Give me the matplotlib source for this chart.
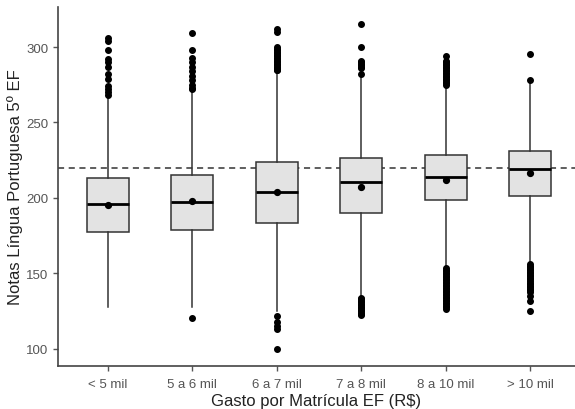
import matplotlib
matplotlib.use("Agg")
import matplotlib.pyplot as plt

categories = ["< 5 mil", "5 a 6 mil", "6 a 7 mil", "7 a 8 mil", "8 a 10 mil", "> 10 mil"]
q1 = [177.5, 178.8, 183.4, 190.0, 198.7, 201.3]
medians = [196.0, 197.6, 204.0, 210.6, 213.9, 219.2]
q3 = [213.2, 215.2, 223.8, 226.5, 228.5, 231.0]
whisker_low = [128.0, 128.0, 125.0, 135.0, 154.3, 156.5]
whisker_high = [267.5, 271.0, 283.5, 281.0, 274.0, 276.5]
means = [195.6, 197.8, 204.0, 207.3, 212.0, 216.6]
outliers = [
    [306, 304, 298, 292, 290, 287, 282, 279, 274, 272, 270, 268.5],
    [309, 298, 293, 290, 287, 284, 281, 278, 275, 273, 272, 120.5],
    [312, 310, 300, 299, 298, 297, 296, 295, 294, 293, 292, 291, 290, 289, 288,
     287, 286, 285, 284.5, 122, 118, 115.5, 113, 100],
    [315, 300, 291, 290, 289, 288, 287, 286, 282,
     134, 133, 132, 131, 130, 129, 128, 127, 126, 125, 124, 123, 122.5],
    [294, 291, 290, 289, 288, 287, 286, 285, 284, 283, 282, 281, 280, 279, 278,
     277, 276, 275,
     153.5, 152.5, 151.5, 150.5, 149.5, 148.5, 147.5, 146.5, 145.5, 144.5, 143.5,
     142.5, 141.5, 140.5, 139.5, 138.5, 137.5, 136.5, 135.5, 134.5, 133.5, 132.5,
     131.5, 130.5, 129.5, 128.5, 127.5, 126.5],
    [295.5, 278, 156, 155, 154, 153, 152, 151, 150, 149, 148, 147, 146, 145, 144,
     143, 142, 141, 140, 139, 138, 135, 132, 125],
]
reference_line = 220
y_ticks = [100, 150, 200, 250, 300]
x_label = "Gasto por Matrícula EF (R$)"
y_label = "Notas Língua Portuguesa 5º EF"

plt.rcParams['font.family'] = ['Liberation Sans', 'DejaVu Sans']

fig = plt.figure(figsize=(5.75, 4.10), dpi=100)
ax = fig.add_axes([58/575, 43/410, 1 - 58/575, (367-8)/410])

stats = []
for i in range(len(categories)):
    stats.append(dict(med=medians[i], q1=q1[i], q3=q3[i], whislo=whisker_low[i],
                      whishi=whisker_high[i], mean=means[i], fliers=outliers[i],
                      label=categories[i]))

edge = "#333333"
ax.axhline(reference_line, color="#333333", linestyle=(0, (4, 3)), linewidth=1.1, zorder=1)
ax.bxp(stats, positions=range(1, len(categories) + 1), widths=0.5, patch_artist=True,
       showmeans=True, showcaps=False,
       boxprops=dict(facecolor="#e3e3e3", edgecolor=edge, linewidth=1.1),
       medianprops=dict(color="black", linewidth=2.0),
       whiskerprops=dict(color=edge, linewidth=1.1),
       meanprops=dict(marker="o", markerfacecolor="black", markeredgecolor="black", markersize=4.2),
       flierprops=dict(marker="o", markerfacecolor="black", markeredgecolor="black", markersize=4.0),
       zorder=2)

ax.set_xlim(0.41, 6.53)
ax.set_ylim(88.7, 326.5)
ax.set_yticks(y_ticks)
ax.set_xticks(range(1, len(categories) + 1))
ax.set_xticklabels(categories)

for s in ["top", "right"]:
    ax.spines[s].set_visible(False)
for s in ["left", "bottom"]:
    ax.spines[s].set_color("#444444")
    ax.spines[s].set_linewidth(1.2)
ax.tick_params(axis="both", colors="#555555", labelcolor="#555555", labelsize=9.5, length=3.5, width=1.0)
ax.tick_params(axis="x", pad=5)
ax.set_xlabel(x_label, fontsize=12, color="#222222", labelpad=2)
ax.set_ylabel(y_label, fontsize=12, color="#222222", labelpad=2)

fig.savefig("out.png", dpi=100)
